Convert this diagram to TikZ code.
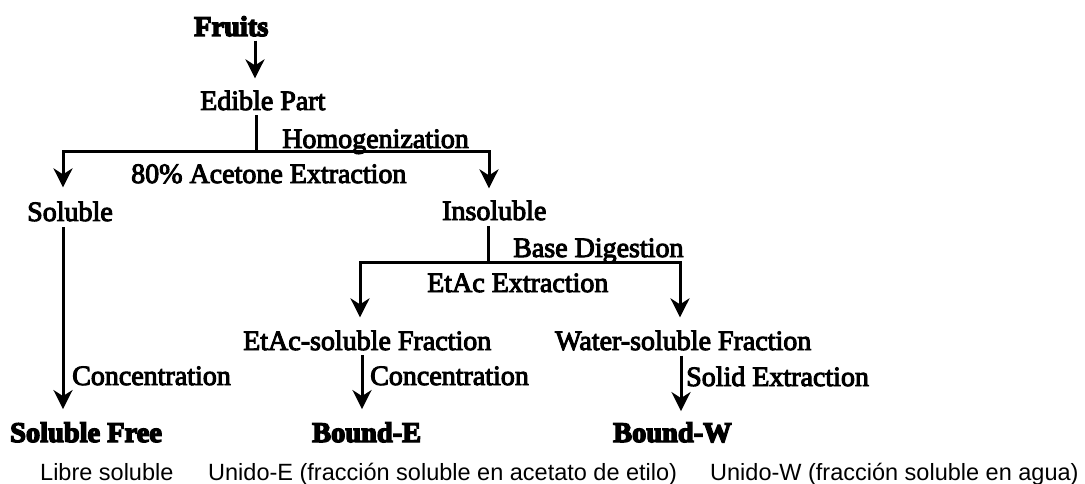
\documentclass[tikz,border=0pt]{standalone}
\usepackage{fontspec}
\setmainfont{Liberation Serif}
\newfontfamily\medfont{Liberation Serif}[FakeBold=3.5]
\newfontfamily\heavyfont{Liberation Serif Bold}[FakeBold=5]
\newfontfamily\esfont{Liberation Sans}
\usetikzlibrary{arrows.meta}
\begin{document}
\begin{tikzpicture}[x=1pt,y=-1pt,
  lbl/.style={inner sep=0pt, anchor=base west, font=\medfont\fontsize{28}{30}\selectfont},
  heavy/.style={inner sep=0pt, anchor=base west, font=\heavyfont\fontsize{28.4}{30}\selectfont},
  es/.style={inner sep=0pt, anchor=base west, font=\esfont\fontsize{23.5}{26}\selectfont},
  ln/.style={line width=3pt},
  arr/.style={ln, -{Stealth[length=19pt,width=19pt,inset=6pt]}}]
\path[use as bounding box, fill=white] (0,0) rectangle (1085,484);
% texts
\node[heavy] (fruits) at (194,36) {Fruits};
\node[lbl] (edible) at (200,110) {Edible Part};
\node[lbl] (homog) at (282,148) {Homogenization};
\node[lbl] (acet) at (131,183) {80\% Acetone Extraction};
\node[lbl] (sol) at (27,221) {Soluble};
\node[lbl] (insol) at (442,220) {Insoluble};
\node[lbl] (based) at (513,257) {Base Digestion};
\node[lbl] (etacx) at (427,292) {EtAc Extraction};
\node[lbl] (etacf) at (243,350) {EtAc-soluble Fraction};
\node[lbl] (waterf) at (555,350) {Water-soluble Fraction};
\node[lbl] (conc1) at (72,385) {Concentration};
\node[lbl] (conc2) at (370,385) {Concentration};
\node[lbl] (solidx) at (686,386) {Solid Extraction};
\node[heavy] (free) at (10,442) {Soluble Free};
\node[heavy] (bE) at (312,442) {Bound-E};
\node[heavy] (bW) at (613,442) {Bound-W};
\node[es] (s1) at (40,480) {Libre soluble};
\node[es] (s2) at (208,480) {Unido-E (fracción soluble en acetato de etilo)};
\node[es] (s3) at (710,480) {Unido-W (fracción soluble en agua)};
% reference coordinates
\coordinate (xa) at (255,0);
\coordinate (j1) at (256,152);
\coordinate (j1l) at (63,152);
\coordinate (j1r) at (489,152);
\coordinate (j2) at (488,262);
\coordinate (j2l) at (360,262);
\coordinate (j2r) at (680,262);
\coordinate (xe) at (362,0);
\coordinate (xw) at (681,0);
% connectors
\draw[arr] ([yshift=-4pt]fruits.south -| xa) -- ([yshift=12pt]edible.north -| xa);
\draw[ln] ([yshift=-5pt]edible.south -| j1) -- (j1);
\draw[arr] (j1) -- (j1l) -- ([yshift=14pt]sol.north -| j1l);
\draw[arr] (j1) -- (j1r) -- ([yshift=12pt]insol.north -| j1r);
\draw[arr] ([yshift=-6pt]sol.south -| j1l) -- ([yshift=13pt]free.north -| j1l);
\draw[ln] ([yshift=-6pt]insol.south -| j2) -- (j2);
\draw[arr] (j2) -- (j2l) -- ([yshift=13pt]etacf.north -| j2l);
\draw[arr] (j2) -- (j2r) -- ([yshift=13pt]waterf.north -| j2r);
\draw[arr] ([yshift=-5pt]etacf.south -| xe) -- ([yshift=13pt]bE.north -| xe);
\draw[arr] ([yshift=-5pt]waterf.south -| xw) -- ([yshift=11pt]bW.north -| xw);
\end{tikzpicture}
\end{document}
